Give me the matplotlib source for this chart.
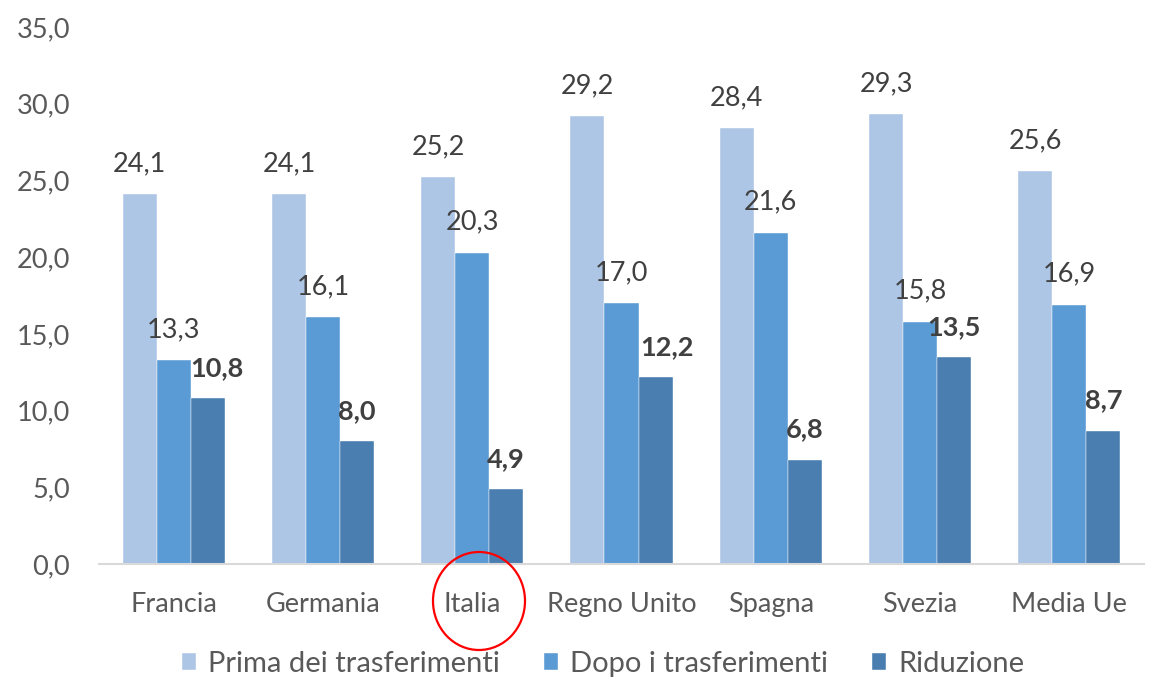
import matplotlib
matplotlib.use("Agg")
import matplotlib.pyplot as plt
import numpy as np
from matplotlib.patches import Ellipse

categories = ["Francia", "Germania", "Italia", "Regno Unito", "Spagna", "Svezia", "Media Ue"]
prima = [24.1, 24.1, 25.2, 29.2, 28.4, 29.3, 25.6]
dopo = [13.3, 16.1, 20.3, 17.0, 21.6, 15.8, 16.9]
riduzione = [10.8, 8.0, 4.9, 12.2, 6.8, 13.5, 8.7]
series_names = ["Prima dei trasferimenti", "Dopo i trasferimenti", "Riduzione"]
yticks = [0, 5, 10, 15, 20, 25, 30, 35]

colors = ["#ADC6E6", "#5B9BD5", "#4A7EB0"]
plt.rcParams['font.family'] = ['Lato', 'DejaVu Sans']
FS = 19.5

# label nudges (series index, category index) -> x offset in points
label_dx = {(2, 0): 7, (2, 3): 8}

fig = plt.figure(figsize=(11.64, 6.85), dpi=100)
ax = fig.add_axes([99/1164, 1-564/685, (1144-99)/1164, (564-27)/685])

x = np.arange(len(categories))
w = 0.228
all_series = [prima, dopo, riduzione]
for i, (vals, c, name) in enumerate(zip(all_series, colors, series_names)):
    pos = x + (i - 1) * w
    ax.bar(pos, vals, width=w, color=c, label=name, edgecolor='white', linewidth=0.3)
    for j, (p, v) in enumerate(zip(pos, vals)):
        ax.annotate(f"{v:.1f}".replace('.', ','), (p, v),
                    xytext=(label_dx.get((i, j), 0), 13), textcoords='offset points',
                    ha='center', va='bottom', fontsize=FS, color='#404040',
                    fontweight='bold' if i == 2 else 'normal')

ax.set_xlim(-0.5, len(categories) - 0.5)
ax.set_ylim(0, 35)
ax.set_yticks(yticks)
ax.set_yticklabels([f"{t:.1f}".replace('.', ',') for t in yticks], fontsize=FS, color='#595959')
ax.set_xticks(x)
ax.set_xticklabels(categories, fontsize=FS, color='#595959')
ax.tick_params(axis='both', length=0)
ax.tick_params(axis='x', pad=20)
ax.tick_params(axis='y', pad=21)
for s in ['top', 'right', 'left']:
    ax.spines[s].set_visible(False)
ax.spines['bottom'].set_color('#D9D9D9')
ax.spines['bottom'].set_linewidth(1.5)

leg = fig.legend(loc='center', bbox_to_anchor=(603/1164, 1-664/685), ncol=3, frameon=False,
                 fontsize=21, handlelength=0.5, handleheight=0.5, columnspacing=1.5,
                 handletextpad=0.4, labelcolor='#595959')

ell = Ellipse((479/1164, 1-601/685), 92/1164, 98/685, transform=fig.transFigure,
              fill=False, edgecolor='#FF0000', linewidth=1.6)
fig.patches.append(ell)

fig.savefig("out.png", dpi=100)
